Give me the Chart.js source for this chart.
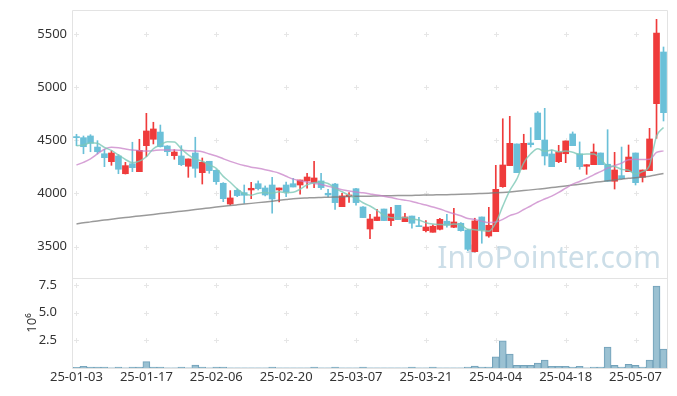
<!DOCTYPE html>
<html><head><meta charset="utf-8">
<script src="https://cdn.jsdelivr.net/npm/chart.js@4/dist/chart.umd.min.js"></script>
<style>html,body{margin:0;padding:0;background:#fff}#wrap{width:677px;height:396px;position:relative}</style>
</head><body><div id="wrap"><canvas id="c" width="677" height="396"></canvas></div>
<script>
const dates = ['25-01-03','25-01-06','25-01-07','25-01-08','25-01-09','25-01-10','25-01-13','25-01-14','25-01-15','25-01-16',
'25-01-17','25-01-20','25-01-21','25-01-22','25-01-23','25-01-24','25-01-31','25-02-03','25-02-04','25-02-05',
'25-02-06','25-02-07','25-02-10','25-02-11','25-02-12','25-02-13','25-02-14','25-02-17','25-02-18','25-02-19',
'25-02-20','25-02-21','25-02-24','25-02-25','25-02-26','25-02-27','25-02-28','25-03-04','25-03-05','25-03-06',
'25-03-07','25-03-10','25-03-11','25-03-12','25-03-13','25-03-14','25-03-17','25-03-18','25-03-19','25-03-20',
'25-03-21','25-03-24','25-03-25','25-03-26','25-03-27','25-03-28','25-03-31','25-04-01','25-04-02','25-04-03',
'25-04-04','25-04-07','25-04-08','25-04-09','25-04-10','25-04-11','25-04-14','25-04-15','25-04-16','25-04-17',
'25-04-18','25-04-21','25-04-22','25-04-23','25-04-24','25-04-25','25-04-28','25-04-29','25-04-30','25-05-02',
'25-05-07','25-05-08','25-05-09','25-05-12','25-05-13'];
const tickLabels = ['25-01-03','25-01-17','25-02-06','25-02-20','25-03-07','25-03-21','25-04-04','25-04-18','25-05-07'];
const openP = [4535,4525,4541,4437,4374,4299,4353,4186,4280,4205,
4450,4510,4578,4447,4356,4353,4256,4381,4196,4303,
4218,4096,3901,4030,4008,4033,4092,4052,4080,4033,
4080,4092,4080,4118,4102,4118,4002,4089,3876,3970,
4045,3873,3666,3745,3854,3745,3889,3735,3788,3695,
3650,3635,3663,3739,3682,3720,3657,3453,3779,3600,
3641,4064,4262,4466,4228,4475,4757,4503,4372,4299,
4374,4560,4372,4256,4271,4381,4275,4115,4168,4205,
4381,4152,4215,4845,5331];
const highP = [4557,4541,4553,4497,4416,4403,4365,4293,4482,4510,
4754,4670,4644,4450,4412,4450,4325,4529,4334,4303,
4224,4102,4027,4042,4080,4105,4118,4071,4152,4052,
4108,4143,4127,4190,4303,4190,4039,4096,4002,4008,
4049,3876,3804,3851,3854,3870,3889,3814,3788,3776,
3744,3704,3767,3804,3861,3726,3664,3767,3779,3870,
4265,4703,4726,4466,4557,4619,4770,4801,4409,4453,
4494,4579,4485,4271,4466,4381,4600,4387,4437,4456,
4381,4221,4613,5638,5378];
const lowP = [4450,4374,4393,4372,4252,4265,4186,4183,4205,4205,
4346,4466,4437,4356,4322,4262,4152,4152,4089,4190,
4086,3923,3892,3970,3908,3951,4033,3977,3814,3920,
3970,4061,3993,4049,4055,4039,3970,3851,3876,3917,
3889,3773,3575,3745,3745,3697,3754,3735,3673,3688,
3638,3635,3657,3682,3679,3645,3462,3450,3532,3588,
3641,4058,4262,4196,4228,4437,4506,4268,4252,4290,
4290,4450,4228,4180,4271,4271,4115,4042,4139,4205,
4080,4108,4215,4519,4682];
const closeP = [4525,4440,4472,4393,4337,4381,4228,4262,4243,4406,
4588,4607,4440,4393,4390,4271,4325,4237,4293,4215,
4111,3951,3958,3980,3983,4049,4045,3986,3948,4052,
4014,4061,4127,4155,4146,4055,3986,3914,3977,3986,
3914,3773,3760,3779,3745,3807,3754,3779,3720,3688,
3685,3692,3757,3701,3732,3650,3475,3742,3657,3701,
4039,4268,4472,4196,4472,4459,4506,4353,4252,4390,
4494,4450,4252,4271,4390,4271,4115,4221,4139,4343,
4102,4221,4513,5509,4760];
const volumeM = [0.06,0.16,0.08,0.08,0.08,0.01,0.08,0.01,0.08,0.08,
0.57,0.08,0.08,0.01,0.01,0.08,0.01,0.27,0.08,0.01,
0.08,0.08,0.01,0.01,0.01,0.01,0.01,0.01,0.08,0.01,
0.01,0.01,0.01,0.01,0.08,0.01,0.01,0.08,0.01,0.01,
0.01,0.08,0.01,0.01,0.01,0.01,0.01,0.01,0.08,0.01,
0.01,0.08,0.01,0.01,0.01,0.01,0.09,0.18,0.09,0.09,
1.0,2.45,1.27,0.24,0.24,0.24,0.45,0.72,0.15,0.15,
0.15,0.09,0.15,0.01,0.09,0.09,1.9,0.24,0.09,0.33,
0.24,0.09,0.72,7.4,1.72];
const ma5 = [4450,4455,4478,4472,4433,4405,4362,4320,4290,4304,
4345,4421,4457,4487,4484,4420,4364,4323,4303,4268,
4236,4161,4106,4043,3997,3984,4003,4009,4002,4016,
4009,4012,4040,4082,4101,4109,4094,4051,4016,3984,
3955,3913,3882,3842,3794,3773,3769,3773,3761,3750,
3725,3713,3708,3705,3713,3706,3663,3660,3651,3645,
3723,3881,4027,4135,4289,4373,4421,4397,4408,4392,
4399,4388,4368,4371,4371,4327,4260,4254,4227,4218,
4184,4205,4264,4538,4621];
const ma20 = [4268,4293,4325,4372,4416,4434,4431,4419,4409,4403,
4400,4403,4409,4409,4409,4406,4403,4400,4393,4372,
4352,4327,4302,4281,4263,4247,4237,4224,4209,4191,
4162,4135,4120,4108,4095,4085,4068,4052,4036,4024,
4014,4006,3996,3986,3974,3962,3947,3937,3925,3907,
3891,3872,3854,3831,3810,3790,3764,3756,3740,3726,
3732,3757,3792,3813,3849,3882,3920,3948,3975,4010,
4050,4088,4113,4142,4175,4206,4238,4262,4286,4318,
4321,4319,4321,4386,4401];
const ma120 = [3713,3724,3733,3742,3750,3758,3766,3774,3781,3789,
3796,3803,3811,3818,3826,3833,3841,3849,3857,3864,
3872,3879,3886,3893,3900,3907,3914,3921,3928,3936,
3943,3950,3955,3958,3961,3963,3965,3967,3969,3971,
3973,3974,3975,3977,3978,3979,3980,3981,3982,3984,
3985,3986,3988,3989,3991,3993,3995,3997,4000,4003,
4006,4010,4015,4021,4027,4034,4041,4048,4056,4063,
4071,4079,4087,4095,4103,4111,4119,4127,4135,4143,
4149,4156,4163,4176,4189];
const priceTicks = [3500,4000,4500,5000,5500];
const volumeTicks = [2.5,5.0,7.5];
const watermark = 'InfoPointer.com';

const UP = '#ef3b3b', DOWN = '#6bc0d8';
const candleColor = dates.map((d,i) => closeP[i] >= openP[i] ? UP : DOWN);
const tickIdx = tickLabels.map(t => dates.indexOf(t));
const FONT = '"Noto Sans", sans-serif';

const decor = {
  id: 'decor',
  beforeDatasetsDraw(chart) {
    const {ctx} = chart;
    const x = chart.scales.x, yp = chart.scales.y, yv = chart.scales.yv;
    ctx.save();
    ctx.strokeStyle = '#e3e3e3'; ctx.lineWidth = 1;
    const L = Math.round(x.left) - 0.5, R = Math.round(x.right) + 0.5;
    const T = Math.round(yp.top) + 0.5, M = Math.round(yp.bottom) + 0.5, B = Math.round(yv.bottom) + 0.5;
    ctx.beginPath();
    ctx.moveTo(L, T); ctx.lineTo(R, T); ctx.lineTo(R, B); ctx.lineTo(L, B); ctx.closePath();
    ctx.moveTo(L, M); ctx.lineTo(R, M);
    ctx.stroke();
    ctx.strokeStyle = '#e6e6e6';
    const cross = (px, py) => {
      px = Math.round(px) + 0.5; py = Math.round(py) + 0.5;
      ctx.beginPath(); ctx.moveTo(px - 2.5, py); ctx.lineTo(px + 2.5, py);
      ctx.moveTo(px, py - 2.5); ctx.lineTo(px, py + 2.5); ctx.stroke();
    };
    tickIdx.forEach(i => {
      const px = x.getPixelForValue(i);
      priceTicks.forEach(v => cross(px, yp.getPixelForValue(v)));
      volumeTicks.forEach(v => cross(px, yv.getPixelForValue(v)));
    });
    ctx.font = '30px ' + FONT;
    ctx.fillStyle = 'rgba(170,200,216,0.6)';
    ctx.textAlign = 'right'; ctx.textBaseline = 'alphabetic';
    ctx.fillText(watermark, x.right - 6, yp.bottom - 10);
    ctx.restore();
  }
};

const noPad = s => { s.paddingTop = 0; s.paddingBottom = 0; };

new Chart(document.getElementById('c'), {
  data: {
    labels: dates,
    datasets: [
      {type:'line', label:'MA5', data: ma5, yAxisID:'y', borderColor:'rgba(125,200,182,0.8)', borderWidth:1.5, pointRadius:0, cubicInterpolationMode:'monotone', order:0},
      {type:'line', label:'MA20', data: ma20, yAxisID:'y', borderColor:'rgba(200,130,200,0.75)', borderWidth:1.5, pointRadius:0, cubicInterpolationMode:'monotone', order:0},
      {type:'line', label:'MA120', data: ma120, yAxisID:'y', borderColor:'rgba(120,120,120,0.75)', borderWidth:1.5, pointRadius:0, cubicInterpolationMode:'monotone', order:0},
      {type:'bar', label:'body', data: dates.map((d,i)=>[openP[i], closeP[i]]), yAxisID:'y', backgroundColor: candleColor, barThickness:6, grouped:false, minBarLength:1, order:1},
      {type:'bar', label:'wick', data: dates.map((d,i)=>[lowP[i], highP[i]]), yAxisID:'y', backgroundColor: candleColor, barThickness:1, grouped:false, order:2},
      {type:'bar', label:'volume', data: volumeM, yAxisID:'yv', backgroundColor:'rgba(150,190,208,0.95)', borderColor:'rgba(115,162,186,1)', borderWidth:1, barPercentage:1, categoryPercentage:1, grouped:false, order:3}
    ]
  },
  options: {
    responsive:false, animation:false, devicePixelRatio:1,
    layout:{padding:{top:10, right:10, left:0, bottom:0}},
    plugins:{legend:{display:false}, tooltip:{enabled:false}},
    scales:{
      x:{type:'category', offset:true, grid:{display:false, drawTicks:false}, border:{display:false},
         ticks:{autoSkip:false, maxRotation:0, minRotation:0, padding:1, color:'#333', font:{family:FONT, size:13},
           callback:(v,i)=> tickLabels.includes(dates[i]) ? dates[i] : ''},
         afterFit:s=>{s.height = 28; s.paddingLeft = 0; s.paddingRight = 0;}},
      y:{type:'linear', position:'left', stack:'p', stackWeight:268, weight:1, min:3205, max:5726,
         grid:{display:false, drawTicks:false}, border:{display:false},
         afterBuildTicks:s=>{s.ticks = priceTicks.map(v=>({value:v}));},
         ticks:{padding:6, color:'#333', font:{family:FONT, size:13}, callback:v=>String(v)},
         afterFit:s=>{s.width = 73; noPad(s);}},
      yv:{type:'linear', position:'left', stack:'p', stackWeight:90, weight:0, min:0, max:8.14,
         grid:{display:false, drawTicks:false}, border:{display:false},
         afterBuildTicks:s=>{s.ticks = volumeTicks.map(v=>({value:v}));},
         ticks:{padding:16, color:'#333', font:{family:FONT, size:13}, callback:v=>v.toFixed(1)},
         title:{display:true, text:'10⁶', color:'#333', font:{family:FONT, size:13}, padding:{top:24, bottom:0}},
         afterFit:s=>{s.width = 73; noPad(s);}}
    }
  },
  plugins:[decor]
});
</script></body></html>
